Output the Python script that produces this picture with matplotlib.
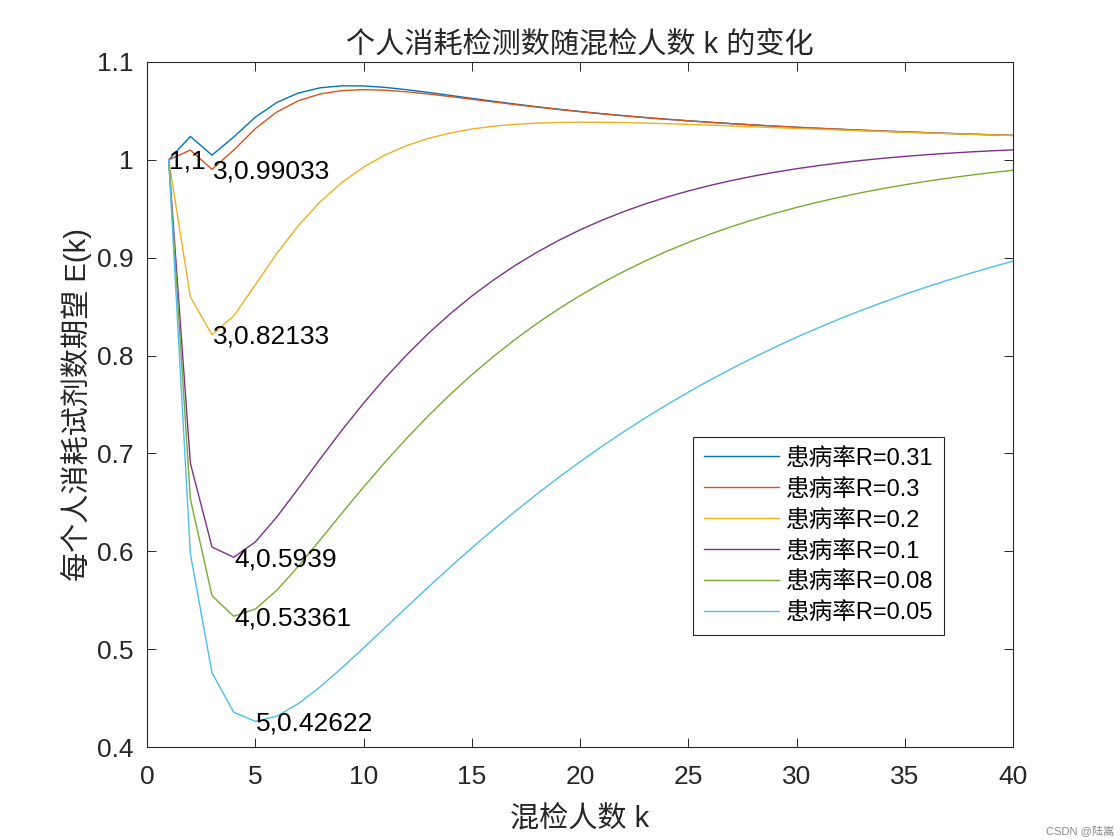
import matplotlib
matplotlib.use("Agg")
import matplotlib.pyplot as plt
import numpy as np

plt.rcParams['font.family'] = ['Liberation Sans', 'Noto Sans CJK SC', 'DejaVu Sans']
plt.rcParams['axes.unicode_minus'] = False

# 混检人数 k
k = np.arange(1, 41)

# 每个人消耗试剂数期望 E(k)，按患病率分组
E_031 = [1.0, 1.0239, 1.00482, 1.02333, 1.0436, 1.05875, 1.06839, 1.07362, 1.07566, 1.07554,
         1.07403, 1.07169, 1.06889, 1.06588, 1.06284, 1.05986, 1.057, 1.0543, 1.05176, 1.0494,
         1.04721, 1.04517, 1.04328, 1.04153, 1.03991, 1.0384, 1.03699, 1.03568, 1.03446, 1.03332,
         1.03225, 1.03125, 1.0303, 1.02941, 1.02857, 1.02778, 1.02703, 1.02632, 1.02564, 1.025]
E_03 = [1.0, 1.01, 0.99033, 1.0099, 1.03193, 1.04902, 1.06051, 1.06735, 1.07076, 1.07175,
        1.07114, 1.06949, 1.06723, 1.06465, 1.06192, 1.05918, 1.0565, 1.05393, 1.05149, 1.0492,
        1.04706, 1.04506, 1.04321, 1.04148, 1.03987, 1.03837, 1.03697, 1.03566, 1.03445, 1.03331,
        1.03225, 1.03124, 1.0303, 1.02941, 1.02857, 1.02778, 1.02703, 1.02632, 1.02564, 1.025]
E_02 = [1.0, 0.86, 0.82133, 0.8404, 0.87232, 0.90453, 0.93314, 0.95723, 0.97689, 0.99263,
        1.00501, 1.01461, 1.02194, 1.02745, 1.03149, 1.03435, 1.0363, 1.03755, 1.03822, 1.03847,
        1.0384, 1.03807, 1.03758, 1.03695, 1.03622, 1.03544, 1.03462, 1.03378, 1.03293, 1.03209,
        1.03127, 1.03046, 1.02967, 1.0289, 1.02816, 1.02745, 1.02677, 1.02611, 1.02547, 1.02487]
E_01 = [1.0, 0.69, 0.60433, 0.5939, 0.60951, 0.63523, 0.66456, 0.69453, 0.72369, 0.75132,
        0.7771, 0.8009, 0.82273, 0.84266, 0.86078, 0.8772, 0.89205, 0.90546, 0.91754, 0.92842,
        0.9382, 0.94697, 0.95485, 0.9619, 0.96821, 0.97385, 0.97889, 0.98337, 0.98738, 0.99094,
        0.99411, 0.99691, 0.9994, 1.0016, 1.00354, 1.00525, 1.00675, 1.00807, 1.00922, 1.01022]
E_008 = [1.0, 0.6536, 0.55464, 0.53361, 0.54092, 0.56031, 0.58501, 0.61178, 0.63895, 0.66561,
         0.69127, 0.71566, 0.73867, 0.76024, 0.78037, 0.79911, 0.8165, 0.83262, 0.84753, 0.86131,
         0.87402, 0.88574, 0.89655, 0.90649, 0.91564, 0.92404, 0.93178, 0.93887, 0.94539, 0.95136,
         0.95685, 0.96187, 0.96647, 0.97069, 0.97455, 0.97808, 0.98131, 0.98425, 0.98694, 0.98939]
E_005 = [1.0, 0.5975, 0.47596, 0.43549, 0.42622, 0.43158, 0.44452, 0.46158, 0.48086, 0.50126,
         0.52211, 0.54297, 0.56358, 0.58375, 0.60338, 0.62237, 0.6407, 0.65835, 0.67528, 0.69151,
         0.70706, 0.72192, 0.73612, 0.74968, 0.76261, 0.77494, 0.7867, 0.79788, 0.80854, 0.81869,
         0.82835, 0.83754, 0.84627, 0.85458, 0.86249, 0.87, 0.87714, 0.88392, 0.89036, 0.89649]

labels = ['患病率R=0.31', '患病率R=0.3', '患病率R=0.2', '患病率R=0.1', '患病率R=0.08', '患病率R=0.05']
colors = ['#0072BD', '#D95319', '#EDB120', '#7E2F8E', '#77AC30', '#4DBEEE']
series = [E_031, E_03, E_02, E_01, E_008, E_005]

# 标注的最小值点
mark_k = [1, 3, 3, 4, 4, 5]
mark_e = [1, 0.99033, 0.82133, 0.5939, 0.53361, 0.42622]

fig = plt.figure(figsize=(11.2, 8.4), dpi=100)
ax = fig.add_axes([0.1313, 0.1107, 0.7732, 0.8155])

for y, c, lab in zip(series, colors, labels):
    ax.plot(k, y, color=c, linewidth=1.0, label=lab)

for xx, yy in zip(mark_k, mark_e):
    ax.annotate('%g,%g' % (xx, yy), (xx, yy), xytext=(0.5, -1.5), textcoords='offset points',
                fontsize=19, ha='left', va='center', color='black')

gray = '#262626'
ax.set_xlim(0, 40)
ax.set_ylim(0.4, 1.1)
ax.set_xticks(np.arange(0, 41, 5))
ax.set_yticks(np.round(np.arange(0.4, 1.101, 0.1), 1))
ax.set_yticklabels(['0.4', '0.5', '0.6', '0.7', '0.8', '0.9', '1', '1.1'])
ax.tick_params(direction='in', length=6.5, width=0.7, top=True, right=True,
               labelsize=19, colors=gray)
ax.tick_params(axis='x', pad=13)
ax.tick_params(axis='y', pad=9.5)
for s in ax.spines.values():
    s.set_color(gray)
    s.set_linewidth(0.8)

ax.set_title('个人消耗检测数随混检人数 k 的变化', fontsize=21, color=gray, pad=7)
ax.set_xlabel('混检人数 k', fontsize=21, color=gray, labelpad=12)
ax.set_ylabel('每个人消耗试剂数期望 E(k)', fontsize=21, color=gray, labelpad=4)

leg = ax.legend(loc='upper left', bbox_to_anchor=(0.6305, 0.4526), borderaxespad=0,
                fontsize=17, handlelength=3.2, handletextpad=0.3, labelspacing=0.38,
                borderpad=0.45, fancybox=False, framealpha=1, edgecolor=gray)
leg.get_frame().set_linewidth(0.8)

fig.text(0.995, 0.005, 'CSDN @陆嵩', fontsize=8, color='#888888', ha='right', va='bottom')

fig.savefig('out.png', dpi=100)
